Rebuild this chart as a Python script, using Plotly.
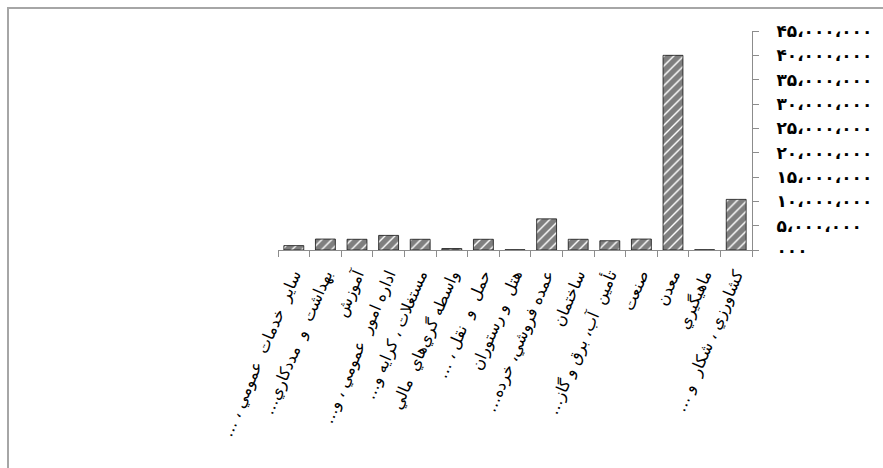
import plotly.graph_objects as go

RLM = "\u200f"
categories = [
    "سایر  خدمات  عمومي ، …",
    "بهداشت  و  مددکاري…",
    "آموزش",
    "اداره امور  عمومي ، و…",
    "مستغلات ، کرایه و…",
    "واسطه گري‌هاي  مالي",
    "حمل  و  نقل ، …",
    "هتل  و رستوران",
    "عمده فروشي، خرده…",
    "ساختمان",
    "تأمين  آب، برق و گاز…",
    "صنعت",
    "معدن",
    "ماهيگيري",
    "کشاورزي ، شکار  و …",
]
values = [900000, 2250000, 2200000, 3000000, 2200000, 300000, 2200000, 50000,
          6400000, 2200000, 1900000, 2250000, 40000000, 50000, 10400000]

tick_values = [0, 5000000, 10000000, 15000000, 20000000, 25000000,
               30000000, 35000000, 40000000, 45000000]

PERSIAN = str.maketrans("0123456789,", "۰۱۲۳۴۵۶۷۸۹،")


def fa(v):
    if v == 0:
        return "۰۰۰"
    return f"{v:,}".translate(PERSIAN)


tick_text = [fa(v) for v in tick_values]
x_labels = [RLM + c + RLM for c in categories]

fig = go.Figure(
    go.Bar(
        x=x_labels,
        y=values,
        width=0.63,
        marker=dict(
            color="white",
            line=dict(color="#111111", width=0.8),
            pattern=dict(shape="/", fgcolor="black", bgcolor="white",
                         size=7, solidity=0.8),
        ),
    )
)

W, H = 883, 468
L, R, T, B = 278, 131, 31, 217.5
pw, ph = W - L - R, H - T - B

fig.update_layout(
    width=W,
    height=H,
    margin=dict(l=L, r=R, t=T, b=B, pad=0, autoexpand=False),
    paper_bgcolor="white",
    plot_bgcolor="white",
    showlegend=False,
    font=dict(family="DejaVu Sans", color="black"),
    xaxis=dict(
        showline=True, linecolor="#8c8c8c", linewidth=1,
        ticks="outside", ticklen=6, tickcolor="#8c8c8c", tickson="boundaries",
        tickangle=-67, ticklabelstandoff=8,
        tickfont=dict(size=16, color="black", family="DejaVu Sans"),
        showgrid=False, zeroline=False, automargin=False,
    ),
    yaxis=dict(
        side="right", range=[0, 45000000],
        tickvals=tick_values, ticktext=tick_text,
        showline=True, linecolor="#8c8c8c", linewidth=1,
        ticks="outside", ticklen=6, tickcolor="#8c8c8c",
        ticklabelstandoff=14,
        tickfont=dict(size=17, color="black", family="DejaVu Sans", weight="bold"),
        showgrid=False, zeroline=False, automargin=False,
    ),
    shapes=[
        dict(type="rect", xref="paper", yref="paper",
             x0=(8 - L) / pw, x1=1.6, y0=-1.6, y1=(H - B - 8) / ph,
             line=dict(color="#a6a6a6", width=2), fillcolor="rgba(0,0,0,0)",
             layer="below"),
    ],
)

fig.write_html("out.html",
               config={"displayModeBar": False},
               post_script="document.body.style.margin='0';document.body.style.overflow='hidden';")
